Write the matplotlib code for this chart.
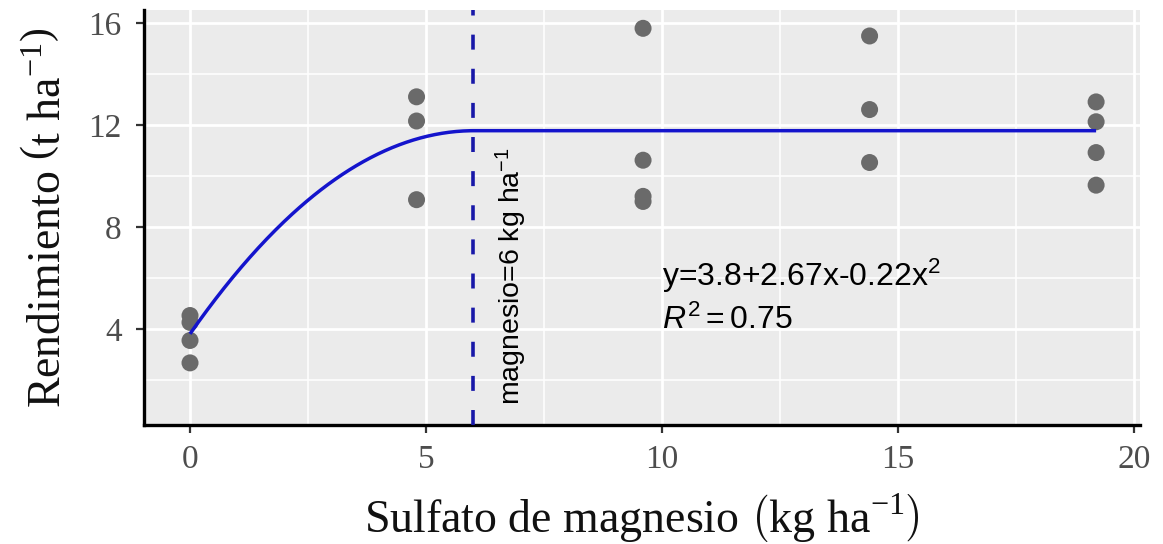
import numpy as np
import matplotlib
matplotlib.use("Agg")
import matplotlib.pyplot as plt
from matplotlib.ticker import FixedLocator

# ---------------- data ----------------
dose = [0, 0, 0, 0, 4.8, 4.8, 4.8, 9.6, 9.6, 9.6, 9.6,
        14.4, 14.4, 14.4, 19.2, 19.2, 19.2, 19.2]
yield_t = [4.52, 4.25, 3.54, 2.66, 13.11, 12.16, 9.07, 15.8, 10.62, 9.2, 9.0,
           15.5, 12.61, 10.53, 12.91, 12.13, 10.92, 9.64]

# quadratic-plateau model as drawn
fit_a, fit_b, fit_c = 3.8, 2.65, -0.22
join_x = 6.0
curve_end = 19.2

x_ticks = [0, 5, 10, 15, 20]
x_minor = [2.5, 7.5, 12.5, 17.5]
y_ticks = [4, 8, 12, 16]
y_minor = [2, 6, 10, 14]

eq_text = "y=3.8+2.67x-0.22x$^{\\mathsf{2}}$"
r2_text = "$R^{\\mathsf{2}}\\mathsf{=0.75}$"
vline_text = "magnesio=6 kg ha$^{\\mathsf{-1}}$"
xlabel = "Sulfato de magnesio $\\left(\\mathrm{kg\\ ha}^{-1}\\right)$"
ylabel = "Rendimiento $\\left(\\mathrm{t\\ ha}^{-1}\\right)$"

# ---------------- style ----------------
plt.rcParams['mathtext.fontset'] = 'custom'
plt.rcParams['mathtext.rm'] = 'Liberation Serif'
plt.rcParams['mathtext.it'] = 'Liberation Sans:italic'
plt.rcParams['mathtext.sf'] = 'Liberation Sans'
plt.rcParams['mathtext.bf'] = 'Liberation Serif:bold'

fig = plt.figure(figsize=(11.63, 5.44), dpi=100)
W, H = 1163, 544
ax = fig.add_axes([144 / W, 1 - 425 / H, (1140 - 144) / W, (425 - 10) / H])
ax.set_facecolor('#EBEBEB')

ax.set_xlim(-0.975, 20.13)
ax.set_ylim(0.22, 16.52)

ax.xaxis.set_major_locator(FixedLocator(x_ticks))
ax.xaxis.set_minor_locator(FixedLocator(x_minor))
ax.yaxis.set_major_locator(FixedLocator(y_ticks))
ax.yaxis.set_minor_locator(FixedLocator(y_minor))
ax.set_axisbelow(True)
ax.grid(which='major', color='white', lw=2.0)
ax.grid(which='minor', color='white', lw=1.1)

for s in ['top', 'right']:
    ax.spines[s].set_visible(False)
for s in ['left', 'bottom']:
    ax.spines[s].set_color('black')
    ax.spines[s].set_linewidth(2.4)

ax.tick_params(which='major', length=6, width=1.6, color='#333333',
               labelcolor='#4D4D4D', labelsize=24)
ax.tick_params(axis='x', which='major', pad=8)
ax.tick_params(axis='y', which='major', pad=10)
ax.tick_params(which='minor', length=0)
for lab in ax.get_xticklabels() + ax.get_yticklabels():
    lab.set_fontfamily('Liberation Serif')

# points
ax.scatter(dose, yield_t, s=150, color='#6A6A6A', edgecolors='none', zorder=3)

# fitted curve
xc = np.linspace(0, join_x, 200)
yc = fit_a + fit_b * xc + fit_c * xc ** 2
plateau = fit_a + fit_b * join_x + fit_c * join_x ** 2
ax.plot(np.r_[xc, curve_end], np.r_[yc, plateau], color='#1414CC', lw=2.5,
        zorder=4, solid_capstyle='butt')

# vertical dashed line
ax.axvline(join_x, color='#1818A8', lw=2.6, ls=(0, (4.15, 5.3)), zorder=4)

ax.text(6.82, 1.0, vline_text, rotation=90, ha='center', va='bottom',
        fontsize=20.5, fontfamily='Liberation Sans', color='black', zorder=5)
ax.text(10.0, 5.69, eq_text, ha='left', va='baseline', fontsize=23,
        fontfamily='Liberation Sans', color='black', zorder=5)
ax.text(10.0, 4.0, r2_text, ha='left', va='baseline', fontsize=23,
        fontfamily='Liberation Sans', color='black', zorder=5)

ax.set_xlabel(xlabel, fontsize=33, fontfamily='Liberation Serif',
              color='#111111', labelpad=12)
ax.set_ylabel(ylabel, fontsize=33, fontfamily='Liberation Serif',
              color='#111111')
ax.yaxis.set_label_coords(-0.074, 0.5)

fig.savefig('out.png', dpi=100)
